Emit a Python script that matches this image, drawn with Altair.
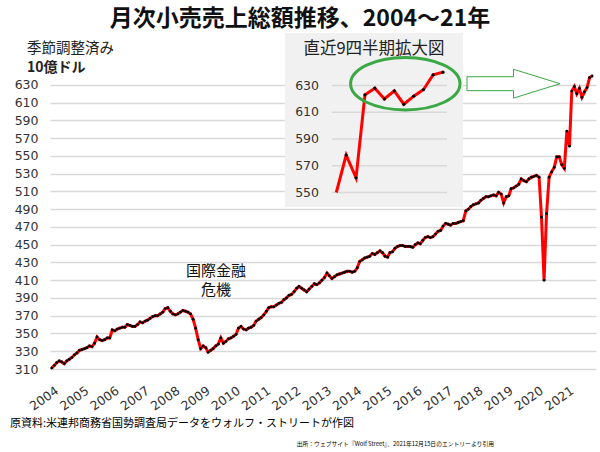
import altair as alt
import pandas as pd

# ---- data (billions of dollars, seasonally adjusted, monthly) ----
years = list(range(2004, 2022))
sales_2004 = [311, 314, 317, 319, 318, 316, 319, 321, 323, 326, 328, 331]
sales_2005 = [332, 333, 334, 336, 335, 339, 346, 343, 342, 343, 345, 345]
sales_2006 = [354, 353, 355, 356, 357, 357, 360, 359, 358, 358, 360, 363]
sales_2007 = [362, 364, 365, 367, 369, 370, 370, 372, 374, 378, 379, 375]
sales_2008 = [372, 371, 372, 374, 376, 375, 374, 372, 366, 356, 343, 333]
sales_2009 = [336, 334, 329, 331, 333, 336, 338, 345, 339, 341, 344, 345]
sales_2010 = [347, 349, 356, 358, 355, 354, 356, 357, 359, 364, 366, 368]
sales_2011 = [371, 375, 379, 380, 380, 382, 384, 385, 388, 390, 393, 394]
sales_2012 = [397, 401, 403, 401, 399, 397, 400, 403, 406, 405, 407, 410]
sales_2013 = [413, 418, 415, 412, 414, 416, 417, 418, 419, 420, 420, 419]
sales_2014 = [420, 424, 431, 433, 435, 436, 437, 440, 439, 441, 443, 441]
sales_2015 = [437, 436, 441, 442, 446, 448, 449, 449, 448, 448, 448, 447]
sales_2016 = [450, 452, 451, 455, 458, 459, 458, 459, 462, 465, 466, 471]
sales_2017 = [474, 473, 472, 474, 474, 475, 476, 477, 488, 490, 493, 495]
sales_2018 = [496, 497, 500, 502, 504, 504, 505, 506, 505, 509, 507, 497]
sales_2019 = [504, 505, 513, 514, 516, 518, 524, 522, 521, 524, 526, 527]
sales_2020 = [528, 526, 481, 410, 485, 526, 532, 537, 549, 549, 540, 536]
sales_2021 = [578, 561, 623, 628, 620, 626, 616, 622, 627, 638, 640]
yearly = [sales_2004, sales_2005, sales_2006, sales_2007, sales_2008, sales_2009,
          sales_2010, sales_2011, sales_2012, sales_2013, sales_2014, sales_2015,
          sales_2016, sales_2017, sales_2018, sales_2019, sales_2020, sales_2021]

y_ticks = list(range(310, 631, 20))
inset_ticks = [550, 570, 590, 610, 630]

title_text = "月次小売売上総額推移、2004～21年"
unit1 = "季節調整済み"
unit2 = "10億ドル"
inset_title = "直近9四半期拡大図"
crisis1 = "国際金融"
crisis2 = "危機"
source1 = "原資料:米連邦商務省国勢調査局データをウォルフ・ストリートが作図"
source2 = "出所：ウェブサイト『Wolf Street』、2021年12月15日のエントリーより引用"

dates, values = [], []
for yr, vals in zip(years, yearly):
    for i, v in enumerate(vals):
        dates.append(f"{yr}-{i + 1:02d}-01")
        values.append(v)
df = pd.DataFrame({"date": dates, "value": values})
inset_line_df = df[df["date"] >= "2020-12-01"]
inset_pts_df = df[df["date"] >= "2021-01-01"]

# ---- layout ----
PL, PT = 50, 76
W, H = 546, 293
JP = "Noto Sans CJK JP"
NUM = "DejaVu Sans"
RED = "#ff0000"
GREEN = "#3aa845"
GRID = "#d9d9d9"

one = pd.DataFrame({"a": [0]})

x_main = alt.Scale(type="utc",
                   domain=[alt.DateTime(year=2003, month=12, date=12, utc=True),
                           alt.DateTime(year=2021, month=12, date=18, utc=True)])
y_main = alt.Scale(domain=[310, 640], zero=False, nice=False)

x_axis = alt.Axis(values=[alt.DateTime(year=y, month=1, date=1, utc=True) for y in years],
                  labelExpr="utcFormat(datum.value, '%Y')", labelAngle=-35,
                  labelAlign="right", labelBaseline="middle", labelPadding=20, labelOffset=5,
                  labelFlush=False, labelOverlap=False, grid=False, domain=False,
                  ticks=False, title=None, labelFont=NUM, labelFontSize=12.5,
                  labelColor="#333333")
y_axis = alt.Axis(values=y_ticks, grid=True, gridColor=GRID, gridWidth=1.5,
                  domain=False, ticks=False, title=None, labelFont=NUM,
                  labelFontSize=12.5, labelColor="#333333", labelPadding=12)

base = alt.Chart(df).encode(
    x=alt.X("date:T", scale=x_main, axis=x_axis),
    y=alt.Y("value:Q", scale=y_main, axis=y_axis),
)
main = alt.layer(
    base.mark_line(color=RED, strokeWidth=3),
    base.mark_circle(color="black", size=8, opacity=1),
)

# inset box
box = alt.Chart(one).mark_rect(color="#f1f1f1").encode(
    x=alt.value(285 - PL), x2=alt.value(463 - PL),
    y=alt.value(33 - PT), y2=alt.value(207 - PT))

PX_PER_UNIT = (192.5 - 85.5) / 80.0
x_in = alt.Scale(type="utc",
                 domain=[alt.DateTime(year=2020, month=12, date=1, utc=True),
                         alt.DateTime(year=2021, month=11, date=1, utc=True)],
                 range=[336.3 - PL, 443 - PL])
y_in = alt.Scale(domain=[550, 650],
                 range=[192.5 - PT, 85.5 - 20 * PX_PER_UNIT - PT],
                 zero=False, nice=False, clamp=True)

tick_df = pd.DataFrame({"t": inset_ticks})
inset = alt.layer(
    alt.Chart(tick_df).mark_rule(color=GRID, strokeWidth=1.5).encode(
        x=alt.value(332 - PL), x2=alt.value(447 - PL),
        y=alt.Y("t:Q", scale=y_in, axis=None)),
    alt.Chart(tick_df).mark_text(align="right", baseline="middle", font=NUM,
                                 fontSize=12.5, color="#333333").encode(
        x=alt.value(319 - PL), y=alt.Y("t:Q", scale=y_in, axis=None),
        text=alt.Text("t:Q")),
    alt.Chart(inset_line_df).mark_line(color=RED, strokeWidth=3).encode(
        x=alt.X("date:T", scale=x_in, axis=None),
        y=alt.Y("value:Q", scale=y_in, axis=None)),
    alt.Chart(inset_pts_df).mark_circle(color="black", size=10, opacity=1).encode(
        x=alt.X("date:T", scale=x_in, axis=None),
        y=alt.Y("value:Q", scale=y_in, axis=None)),
)

ellipse_path = ("M-1,0 C-1,-0.265 -0.5523,-0.48 0,-0.48 C0.5523,-0.48 1,-0.265 1,0 "
                "C1,0.265 0.5523,0.48 0,0.48 C-0.5523,0.48 -1,0.265 -1,0 Z")
ellipse = alt.Chart(one).mark_point(shape=ellipse_path, size=109.4 ** 2, filled=False,
                                    stroke=GREEN, strokeWidth=3, opacity=1).encode(
    x=alt.value(405.3 - PL), y=alt.value(83.7 - PT))

arrow_path = "M-1,-0.15 L0,-0.15 L0,-0.31 L1,0 L0,0.31 L0,0.15 L-1,0.15 Z"
arrow = alt.Chart(one).mark_point(shape=arrow_path, size=93 ** 2, fill="white",
                                  fillOpacity=1, stroke=GREEN, strokeWidth=1,
                                  opacity=1).encode(
    x=alt.value(513.5 - PL), y=alt.value(83.7 - PT))


def label(txt, x, y, size, weight="normal", align="left", color="#222222", font=JP):
    return alt.Chart(one).mark_text(text=txt, align=align, baseline="middle",
                                    font=font, fontSize=size, fontWeight=weight,
                                    color=color).encode(
        x=alt.value(x - PL), y=alt.value(y - PT))


texts = alt.layer(
    label(title_text, 300, 19, 23, "bold", "center", "#111111"),
    label(unit1, 27, 49, 14.5),
    label(unit2, 27, 68, 14, "bold"),
    label(inset_title, 374, 48.5, 16.5, "normal", "center"),
    label(crisis1, 216, 271, 15, "normal", "center", "#111111"),
    label(crisis2, 216, 290, 15, "normal", "center", "#111111"),
    label(source1, 10, 424, 11, "normal", "left", "#000000"),
    label(source2, 494, 444, 5.8, "normal", "right", "#000000"),
)

chart = alt.layer(box, main, inset, ellipse, arrow, texts).resolve_scale(
    x="independent", y="independent"
).properties(
    width=W, height=H,
    autosize=alt.AutoSizeParams(type="none"),
    padding={"left": PL, "top": PT, "right": 600 - PL - W, "bottom": 452 - PT - H},
    background="white",
).configure_view(stroke=None)

chart.save("out.html", embed_options={"renderer": "svg", "actions": False})
